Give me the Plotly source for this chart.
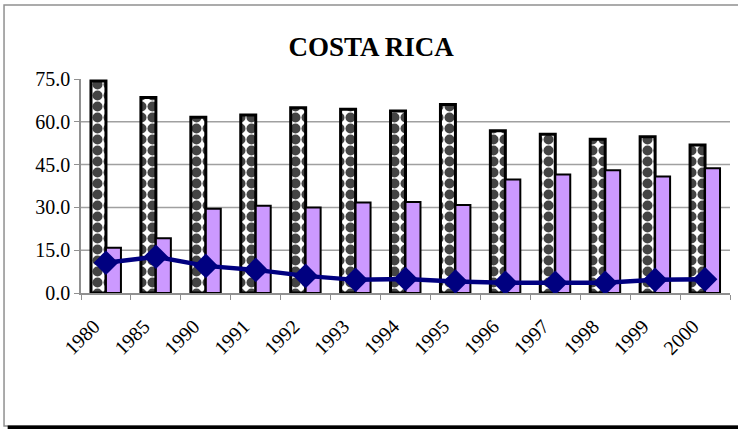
import plotly.graph_objects as go

years = ["1980", "1985", "1990", "1991", "1992", "1993", "1994", "1995",
         "1996", "1997", "1998", "1999", "2000"]
series_a = [74.3, 68.5, 61.6, 62.4, 64.9, 64.4, 63.8, 66.1, 56.9, 55.6, 53.9, 54.8, 51.9]
series_b = [15.9, 19.2, 29.5, 30.6, 30.0, 31.7, 31.9, 30.8, 39.8, 41.5, 43.0, 40.8, 43.7]
series_c = [10.6, 12.7, 9.5, 8.1, 6.0, 4.6, 4.9, 4.0, 3.6, 3.6, 3.6, 4.6, 4.8]
y_ticks = [0, 15, 30, 45, 60, 75]
grid_vals = [15, 30, 45, 60]

serif = "Liberation Serif, Times New Roman, serif"

fig = go.Figure()
fig.add_trace(go.Bar(
    x=years, y=series_a,
    marker=dict(color="white",
                line=dict(color="black", width=3),
                pattern=dict(shape=".", fgcolor="#444444", bgcolor="white",
                             size=11, solidity=0.65, fillmode="replace")),
    showlegend=False,
))
fig.add_trace(go.Bar(
    x=years, y=series_b,
    marker=dict(color="#CC99FF", line=dict(color="black", width=2)),
    showlegend=False,
))
fig.add_trace(go.Scatter(
    x=years, y=series_c, mode="lines+markers",
    line=dict(color="#000080", width=4.5),
    marker=dict(symbol="diamond", size=19, color="#000080"),
    showlegend=False,
))

shapes = []
for g in grid_vals:
    shapes.append(dict(type="line", xref="paper", yref="y", x0=0, x1=1, y0=g, y1=g,
                       line=dict(color="#A0A0A0", width=1.5), layer="below"))
# chart border
shapes.append(dict(type="rect", xref="paper", yref="paper", x0=-0.1186, x1=1.05,
                   y0=-0.6215, y1=1.346, line=dict(color="#909090", width=1.5),
                   layer="below"))
shapes.append(dict(type="line", xref="paper", yref="paper", x0=-0.113, x1=1.05,
                   y0=-0.629, y1=-0.629, line=dict(color="black", width=4)))

fig.update_layout(
    width=738, height=429,
    margin=dict(l=81, r=8, t=79, b=136, autoexpand=False),
    paper_bgcolor="white", plot_bgcolor="white",
    barmode="group", bargap=0.4, bargroupgap=0,
    title=dict(text="<b>COSTA RICA</b>", x=0.503, xanchor="center",
               y=0.892, yanchor="middle", automargin=False,
               font=dict(family=serif, size=27, color="black")),
    font=dict(family=serif, color="black"),
    shapes=shapes,
    xaxis=dict(range=[-0.5, 12.5], showline=True, linecolor="#909090", linewidth=1.5,
               ticks="outside", tickson="boundaries", ticklen=5, tickcolor="#909090",
               tickangle=-45, tickfont=dict(family=serif, size=20),
               showgrid=False, ticklabelstandoff=12, ticklabelshift=-12,
               automargin=False),
    yaxis=dict(range=[0, 75], tickvals=y_ticks, tickformat=".1f",
               showline=True, linecolor="#909090", linewidth=1.5,
               ticks="outside", ticklen=5, tickcolor="#909090",
               tickfont=dict(family=serif, size=20), showgrid=False,
               zeroline=False, automargin=False),
)

fig.write_html("out.html", config={"displayModeBar": False},
               post_script="document.body.style.margin='0';")
